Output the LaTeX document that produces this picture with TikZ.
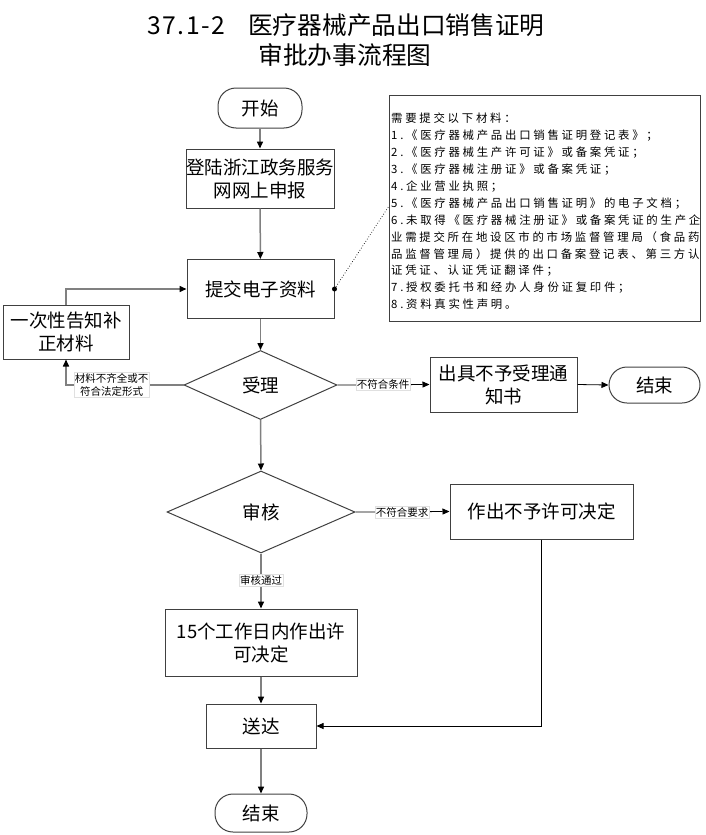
\documentclass[tikz,border=0pt]{standalone}
\usepackage{fontspec}
\setmainfont{Noto Sans CJK SC}
\newfontfamily\notefont[LetterSpace=24]{Noto Sans CJK SC}
\usetikzlibrary{shapes.geometric,arrows.meta}
\definecolor{bord}{HTML}{404040}
\definecolor{conn}{HTML}{808080}
\tikzset{
  box/.style={draw=bord, line width=1pt, rectangle, inner sep=0pt, align=center,
    font=\fontsize{18.5}{23}\selectfont},
  term/.style={box, rounded corners=18pt},
  dia/.style={draw=bord, line width=1pt, diamond, inner sep=0pt, align=center,
    font=\fontsize{18.5}{23}\selectfont},
  main/.style={draw=conn, line width=1.5pt, -{Triangle[length=7pt,width=6pt,color=black]}},
  thinarr/.style={draw=black, line width=0.8pt, -{Triangle[length=7pt,width=6pt]}},
  lbl/.style={fill=white, draw=black!12, line width=0.4pt, inner sep=1pt, align=center,
    font=\fontsize{10.5}{13}\selectfont},
  titlefont/.style={font=\fontsize{24.7}{30}\selectfont},
}
\begin{document}
\begin{tikzpicture}[x=1pt,y=-1pt]
\useasboundingbox (0,0) rectangle (705,835);

% title
\node[titlefont, anchor=west, inner sep=0pt] (title1) at (147,25)
  {\hbox to 78pt{3\hfil 7\hfil .\hfil 1\hfil -\hfil 2}\hspace{23pt}医疗器械产品出口销售证明};
\node[titlefont] (title2) at (345,55) {审批办事流程图};

% main nodes
\node[term, minimum width=84pt, minimum height=40pt] (start) at (260,108) {开始};
\node[box, minimum width=146pt, minimum height=59pt] (login) at (260,178.5) {登陆浙江政务服务\\网网上申报};
\node[box, minimum width=147pt, minimum height=59pt] (submit) at (260.5,289) {提交电子资料};
\node[box, minimum width=126pt, minimum height=54pt] (notify) at (66,332) {一次性告知补\\正材料};
\node[dia, minimum width=153pt, minimum height=69pt] (accept) at (260.5,385) {受理};
\node[box, minimum width=147pt, minimum height=55pt] (reject) at (503.5,384.5) {出具不予受理通\\知书};
\node[term, minimum width=91pt, minimum height=36pt] (end1) at (654.5,385) {结束};
\node[dia, minimum width=188pt, minimum height=82pt] (review) at (261,512) {审核};
\node[box, minimum width=183pt, minimum height=55pt] (deny) at (541.5,511.5) {作出不予许可决定};
\node[box, minimum width=192pt, minimum height=67pt] (decide) at (261,642.5) {15个工作日内作出许\\可决定};
\node[box, minimum width=110pt, minimum height=44pt] (deliver) at (261,726) {送达};
\node[term, minimum width=92pt, minimum height=38pt] (end2) at (261,813) {结束};

% note
\node[draw=bord, line width=1pt, rectangle, minimum width=311pt, minimum height=226pt,
      anchor=north west, inner sep=0pt] (note) at (389,95) {};
\node[anchor=north west, inner sep=0pt, align=left,
      font=\notefont\fontsize{11.4}{16.9}\selectfont] (notetxt) at (391,113) {%
需要提交以下材料：\\
1.《医疗器械产品出口销售证明登记表》；\\
2.《医疗器械生产许可证》或备案凭证；\\
3.《医疗器械注册证》或备案凭证；\\
4.企业营业执照；\\
5.《医疗器械产品出口销售证明》的电子文档；\\
6.未取得《医疗器械注册证》或备案凭证的生产企\\
业需提交所在地设区市的市场监督管理局（食品药\\
品监督管理局）提供的出口备案登记表、第三方认\\
证凭证、认证凭证翻译件；\\
7.授权委托书和经办人身份证复印件；\\
8.资料真实性声明。};

\coordinate (noteend) at (389,206);
\draw[black, line width=0.7pt, dotted] (submit.east) -- (noteend);
\fill[black] (submit.east) circle (2.5pt);

% connectors
\draw[main] (start) -- (login);
\draw[main] (login) -- (submit);
\draw[main] (submit) -- (accept);
\draw[main] (accept.west) -| (notify.south);
\draw[main] (notify.north) |- (submit.west);
\draw[thinarr] (accept.east) -- (reject.west);
\draw[thinarr] (reject.east) -- (end1.west);
\draw[main] (accept.south) -- (review.north);
\draw[thinarr] (review.east) -- (deny.west);
\draw[thinarr] (deny.south) |- (deliver.east);
\draw[main] (review.south) -- (decide.north);
\draw[main] (decide) -- (deliver);
\draw[main] (deliver) -- (end2);

% labels
\node[lbl] (lab1) at (111.5,385) {材料不齐全或不\\符合法定形式};
\node[lbl] (lab2) at (383,384.5) {不符合条件};
\node[lbl] (lab3) at (402,512) {不符合要求};
\node[lbl] (lab4) at (261,580) {审核通过};
\end{tikzpicture}
\end{document}
